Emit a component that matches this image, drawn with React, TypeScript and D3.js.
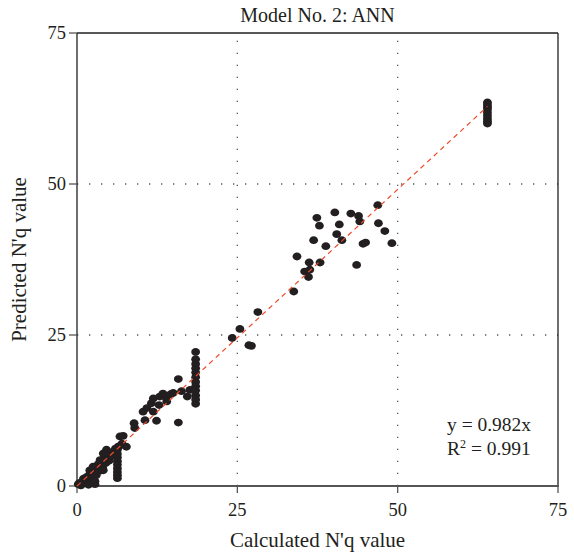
import React from "react";
import * as d3 from "d3";

// calculated (x) vs predicted (y) N'q values
const calcValues = [
  0.2, 0.4, 0.8, 1.0, 1.3, 1.5, 1.8, 2.0, 2.2, 2.5, 2.5, 2.8, 3.0, 3.0, 3.3, 3.5, 3.8, 4.0, 4.2, 4.5,
  4.8, 5.0, 5.2, 5.5, 5.8, 6.0, 6.5, 7.0, 2.0, 2.5, 3.6, 4.1, 4.1, 4.6, 1.8, 2.8, 0.6,
  6.3, 6.3, 6.3, 6.3, 6.3, 6.3, 6.3, 6.3, 6.3, 6.4, 6.7, 7.7, 7.2,
  8.9, 9.0, 10.3, 10.6, 10.9, 11.6, 11.9, 11.9, 12.4, 12.8, 12.9, 13.4, 14.0, 15.0, 15.8, 15.8, 16.3, 17.6,
  18.5, 18.5, 18.5, 18.5, 18.5, 18.5, 18.5, 18.5, 18.5, 18.5, 18.5, 18.5, 17.2, 13.9, 14.6,
  24.2, 25.4, 26.8, 27.2, 28.2,
  33.8, 34.3, 35.5, 36.1, 36.2, 36.3, 36.9, 37.4, 37.8, 37.9, 38.8, 40.2, 40.5, 40.9, 41.3, 42.7,
  43.6, 43.9, 44.1, 44.6, 45.0, 46.9, 47.0, 48.0, 49.1,
  64, 64, 64, 64, 64, 64, 64, 64, 64,
];
const predValues = [
  0.3, 0.5, 0.6, 1.2, 0.5, 1.5, 1.0, 2.0, 0.5, 1.2, 2.5, 0.3, 3.0, 1.8, 3.6, 2.5, 4.0, 3.2, 4.6, 3.8,
  5.0, 4.2, 5.5, 5.0, 5.8, 6.2, 6.5, 7.0, 2.6, 3.2, 4.3, 5.4, 2.6, 6.0, 0.2, 0.8, 0.1,
  6.0, 5.3, 4.7, 4.1, 3.5, 2.9, 2.3, 1.8, 1.3, 6.5, 8.2, 6.5, 8.3,
  10.4, 9.6, 12.3, 10.9, 12.9, 13.7, 14.5, 12.3, 10.8, 13.4, 14.8, 15.3, 14.0, 15.4, 17.7, 10.5, 15.7, 15.9,
  22.2, 21.0, 20.2, 19.5, 18.8, 18.0, 17.2, 16.5, 15.8, 15.0, 14.3, 13.6, 14.8, 14.6, 15.2,
  24.5, 26.0, 23.3, 23.2, 28.8,
  32.2, 38.0, 35.5, 34.6, 37.0, 35.8, 40.7, 44.4, 43.1, 37.0, 39.7, 45.3, 41.7, 43.3, 40.7, 45.1,
  36.6, 44.7, 43.8, 40.1, 40.3, 46.5, 43.5, 42.2, 40.2,
  63.5, 63.1, 62.7, 62.3, 61.8, 61.3, 60.8, 60.4, 60.0,
];
const tickValues = [0, 25, 50, 75];
const slope = 0.982;
const fitRange = [0, 64];

const width = 574;
const height = 556;
const margin = { top: 33, right: 16, bottom: 70, left: 77 };
const font = "'Liberation Serif', 'DejaVu Serif', serif";
const ink = "#231f20";

export default function App() {
  const x = d3.scaleLinear().domain([0, 75]).range([margin.left, width - margin.right]);
  const y = d3.scaleLinear().domain([0, 75]).range([height - margin.bottom, margin.top]);
  const points = calcValues.map((c, i) => [c, predValues[i]]);
  const line = d3.line<number>().x((d) => x(d)).y((d) => y(d * slope));

  const x0 = x(0), x1 = x(75), y0 = y(0), y1 = y(75);

  return (
    <svg
      width={width}
      height={height}
      style={{ position: "absolute", left: 0, top: 0, background: "#fff" }}
      fontFamily={font}
    >
      {/* dotted grid */}
      {[25, 50].map((v) => (
        <g key={"g" + v} stroke="#555" strokeWidth={1.3} strokeDasharray="1.3,10.7">
          <line x1={x(v)} x2={x(v)} y1={y0} y2={y1} />
          <line x1={x0} x2={x1} y1={y(v)} y2={y(v)} />
        </g>
      ))}

      {/* frame */}
      <line x1={x0} x2={x1} y1={y1} y2={y1} stroke={ink} strokeWidth={1.3} />
      <line x1={x1} x2={x1} y1={y1} y2={y0} stroke={ink} strokeWidth={1.3} />
      <line x1={x0} x2={x0} y1={y1} y2={y0} stroke={ink} strokeWidth={1.3} />
      <line x1={x0 - 1} x2={x1 + 1} y1={y0} y2={y0} stroke="#555" strokeWidth={2} />

      {/* ticks and labels */}
      {tickValues.map((v) => (
        <g key={"t" + v} fontSize={18.5} fill={ink}>
          <line x1={x(v)} x2={x(v)} y1={y0} y2={y0 + 7} stroke="#555" strokeWidth={1.3} />
          <text x={x(v)} y={y0 + 30} textAnchor="middle">{v}</text>
          <line x1={x0 - 8} x2={x0} y1={y(v)} y2={y(v)} stroke="#555" strokeWidth={1.3} />
          <text x={x0 - 11} y={y(v) + 6} textAnchor="end">{v}</text>
        </g>
      ))}

      {/* points */}
      {points.map((p, i) => (
        <ellipse key={i} cx={x(p[0])} cy={y(p[1])} rx={4.4} ry={3.9} fill={ink} />
      ))}

      {/* fitted line */}
      <path
        d={line(fitRange) || ""}
        fill="none"
        stroke="#ee4b2b"
        strokeWidth={1.2}
        strokeDasharray="5,4"
      />

      {/* equation */}
      <g fontSize={19.5} fill={ink}>
        <text x={447} y={431}>y = 0.982x</text>
        <text x={447} y={455}>
          R<tspan fontSize={12} dy={-7}>2</tspan>
          <tspan dy={7}> = 0.991</tspan>
        </text>
      </g>

      {/* titles */}
      <text x={(x0 + x1) / 2} y={22} textAnchor="middle" fontSize={20} fill={ink}>
        Model No. 2: ANN
      </text>
      <text x={(x0 + x1) / 2} y={547} textAnchor="middle" fontSize={21} fill={ink}>
        Calculated N'q value
      </text>
      <text
        transform={`translate(26, ${(y0 + y1) / 2}) rotate(-90)`}
        textAnchor="middle"
        fontSize={21}
        fill={ink}
      >
        Predicted N'q value
      </text>
    </svg>
  );
}
